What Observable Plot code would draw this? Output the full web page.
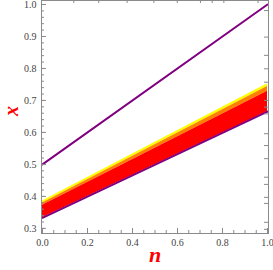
<!DOCTYPE html>
<html><head><meta charset="utf-8">
<script src="https://cdn.jsdelivr.net/npm/d3@7"></script>
<script src="https://cdn.jsdelivr.net/npm/@observablehq/plot@0.6"></script>
<style>body{margin:0;background:#fff}</style>
</head><body><div id="chart"></div>
<script>
const nVals = [0, 1];
const upperLine = [0.5, 1.0];
const lowerLine = [0.333, 0.665];
const redTop = [0.372, 0.729];
const orangeTop = [0.379, 0.744];
const yellowTop = [0.386, 0.752];

const xMajor = [0, 0.2, 0.4, 0.6, 0.8, 1.0];
const xMinor = d3.range(0, 1.0001, 0.05);
const yMajor = [0.3, 0.4, 0.5, 0.6, 0.7, 0.8, 0.9, 1.0];
const yMinor = d3.range(0.3, 1.0001, 0.02);
const topTicks = [0.139, 0.25, 0.376, 0.495, 0.599, 0.702, 0.754, 0.806, 0.958];
const rightTicks = [0.981, 0.898, 0.841, 0.799, 0.757, 0.700, 0.679, 0.658, 0.596, 0.559, 0.518, 0.460, 0.4375, 0.397, 0.378, 0.319, 0.297];

const rows = nVals.map((n, i) => ({n, up: upperLine[i], lo: lowerLine[i], r: redTop[i], o: orangeTop[i], yl: yellowTop[i]}));

const W = 273, H = 270, mL = 41, mR = 5, mT = 0, mB = 37;
const iw = W - mL - mR, ih = H - mT - mB;
const purple = "#800080";
const frameCol = "#8a8a8a";
const font = "Liberation Serif";

const plot = Plot.plot({
  width: W, height: H,
  marginLeft: mL, marginRight: mR, marginTop: mT, marginBottom: mB,
  style: {fontFamily: font, background: "#fff"},
  x: {domain: [-0.0044, 1.0044]},
  y: {domain: [0.284, 1.0125]},
  marks: [
    Plot.areaY(rows, {x: "n", y1: "o", y2: "yl", fill: "#ffff00"}),
    Plot.areaY(rows, {x: "n", y1: "r", y2: "o", fill: "#ff8000"}),
    Plot.areaY(rows, {x: "n", y1: "lo", y2: "r", fill: "#ff0000"}),
    Plot.line(rows, {x: "n", y: "lo", stroke: purple, strokeWidth: 2}),
    Plot.line(rows, {x: "n", y: "up", stroke: purple, strokeWidth: 2}),
    Plot.frame({stroke: frameCol, strokeWidth: 1}),
    Plot.tickY(yMajor, {y: d => d, stroke: frameCol, insetRight: iw - 5}),
    Plot.tickY(yMinor, {y: d => d, stroke: frameCol, insetRight: iw - 3}),
    Plot.tickX(xMajor, {x: d => d, stroke: frameCol, insetTop: ih - 5}),
    Plot.tickX(xMinor, {x: d => d, stroke: frameCol, insetTop: ih - 3}),
    Plot.tickX(topTicks, {x: d => d, stroke: frameCol, insetBottom: ih - 3}),
    Plot.tickY(rightTicks, {y: d => d, stroke: frameCol, insetLeft: iw - 4}),
    Plot.axisX({ticks: xMajor, tickSize: 0, tickPadding: 5, tickFormat: d3.format(".1f"), label: null, fontSize: 10, color: "#444", fontFamily: font}),
    Plot.axisY({ticks: yMajor, tickSize: 0, tickPadding: 5, tickFormat: d3.format(".1f"), label: null, fontSize: 10, color: "#444", fontFamily: font}),
    Plot.text(["x"], {frameAnchor: "left", dx: -30, dy: -1, text: d => d, rotate: -90, fill: "#ff0000", fontSize: 20, fontWeight: "bold", fontStyle: "italic", fontFamily: font}),
    Plot.text(["n"], {frameAnchor: "bottom", dx: 0, dy: 28, text: d => d, fill: "#ff0000", fontSize: 22, fontWeight: "bold", fontStyle: "italic", fontFamily: font})
  ]
});
document.getElementById("chart").append(plot);
</script>
</body></html>
